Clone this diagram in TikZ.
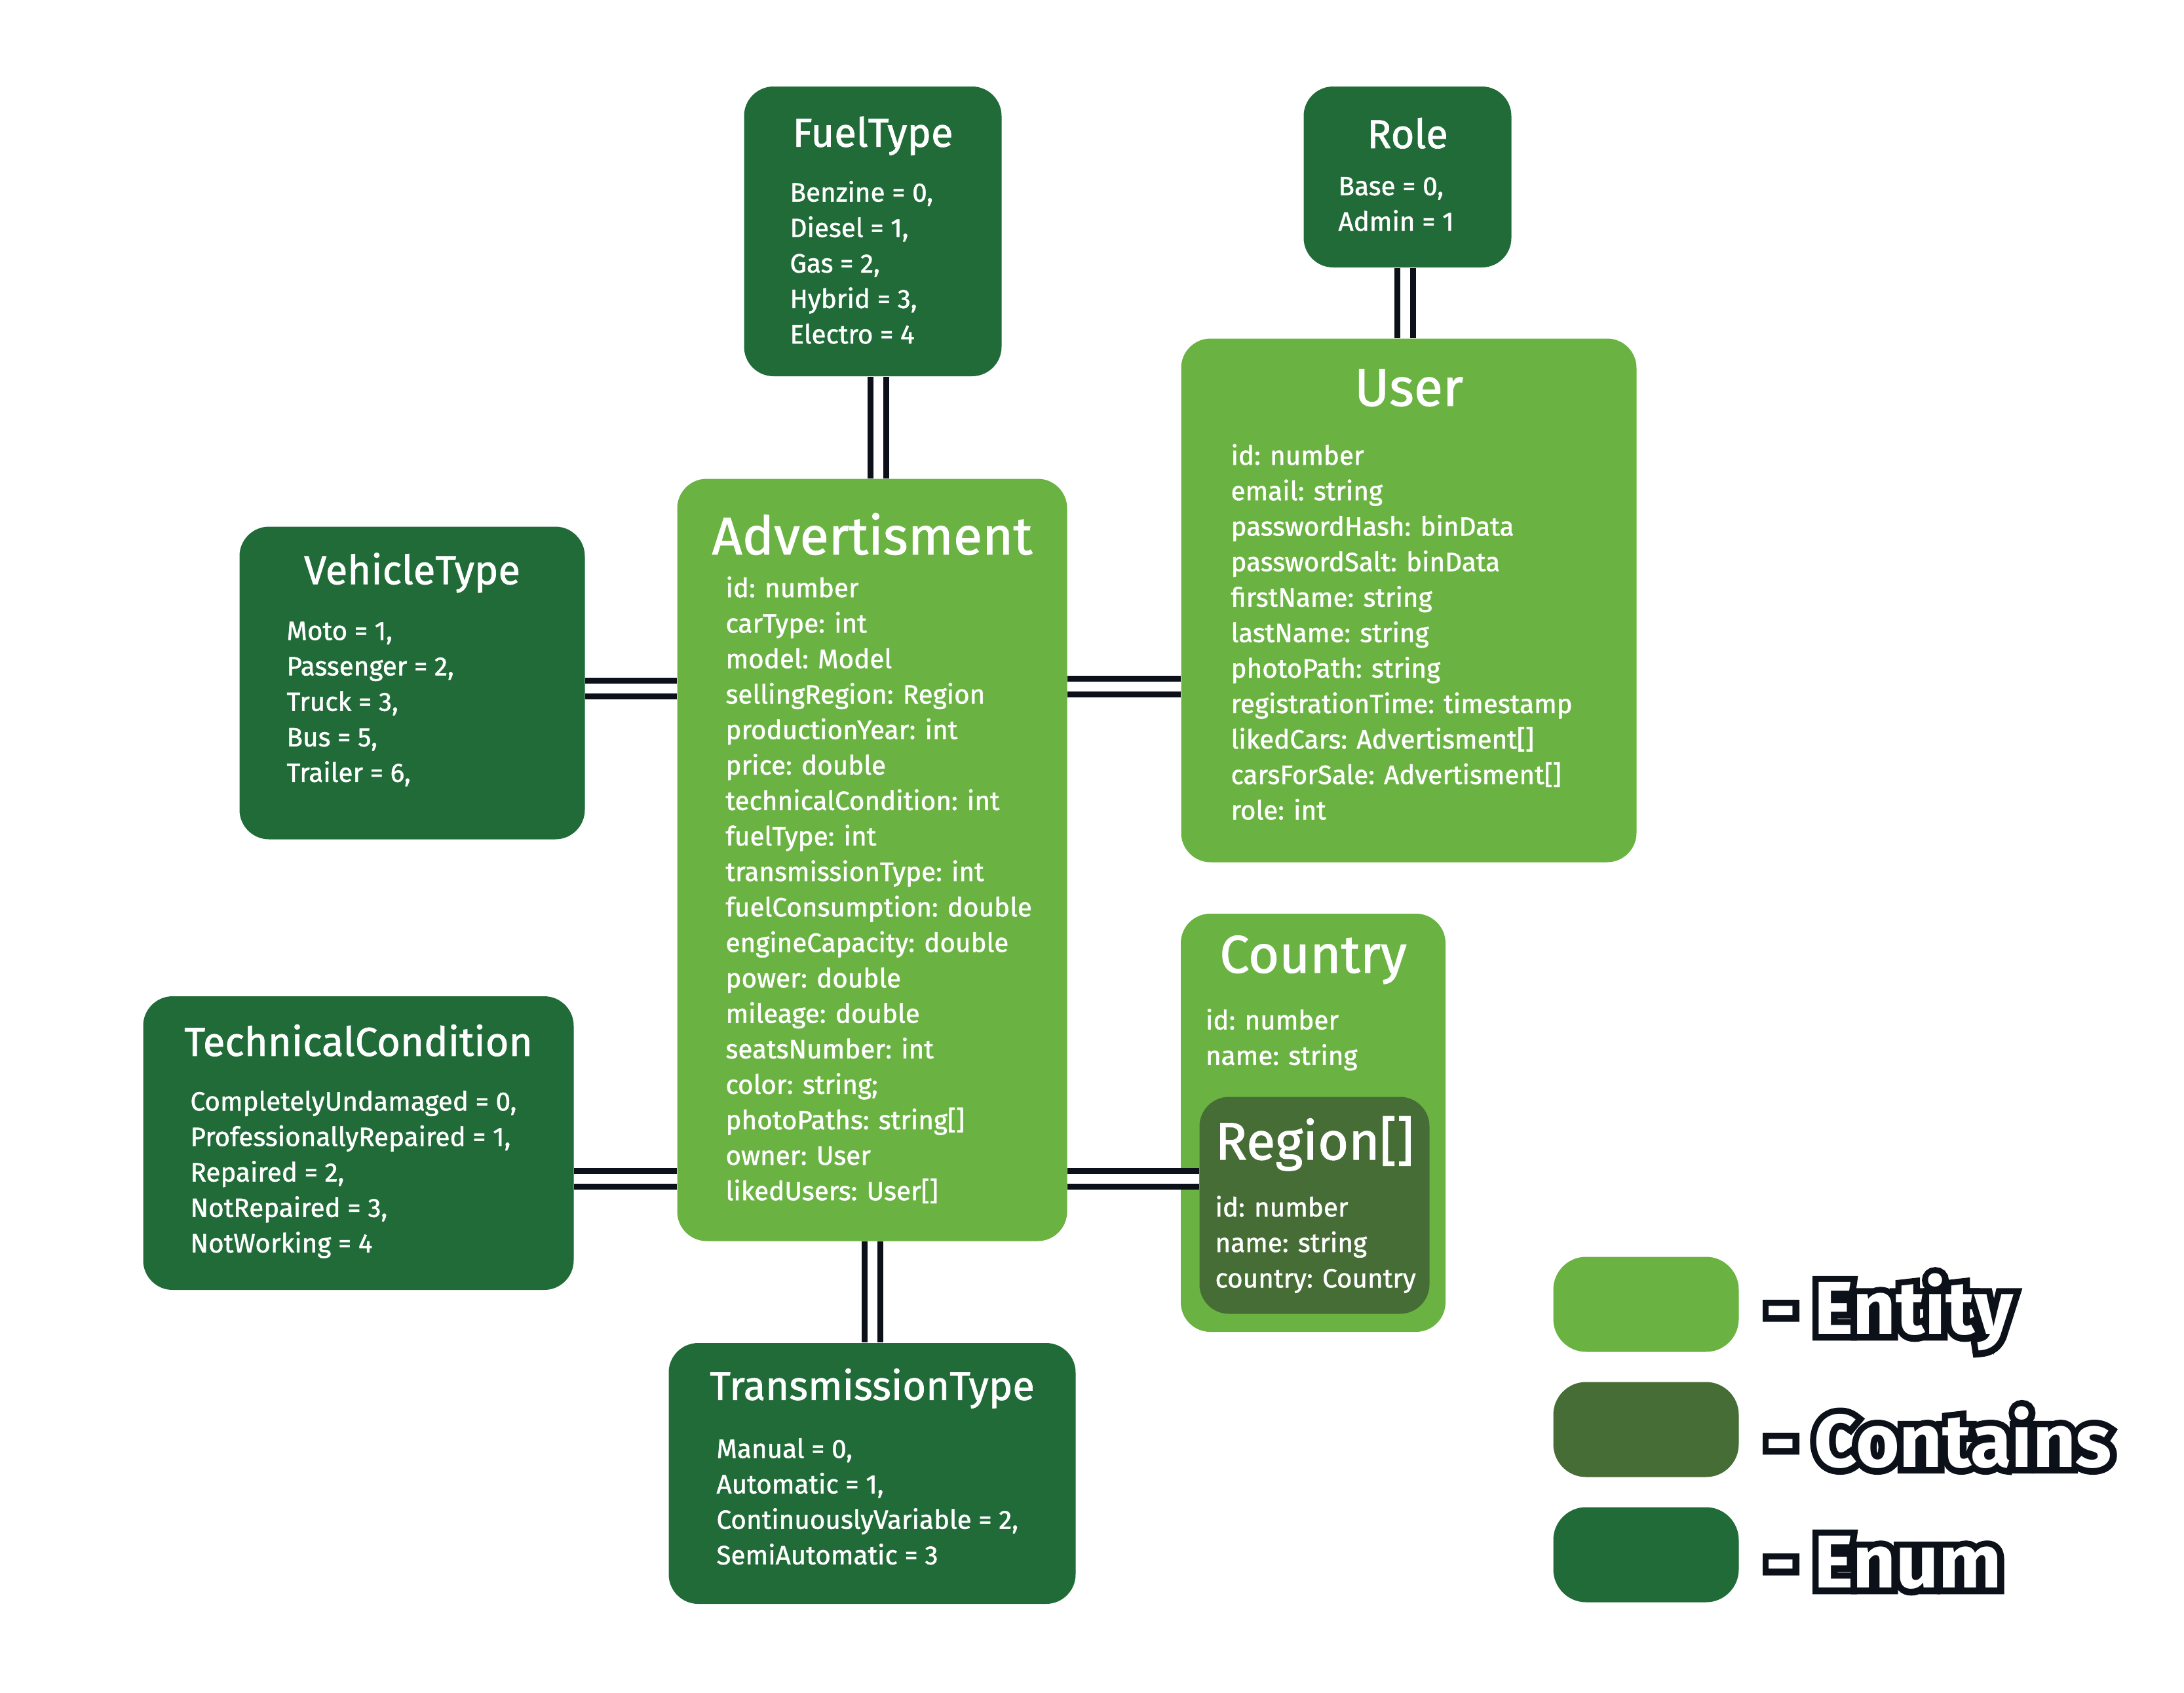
\documentclass[tikz,border=0pt]{standalone}
\usepackage{fontspec}
\setmainfont{Fira Sans}[UprightFeatures={FakeBold=1.2}]
\newfontfamily\legendfont{Fira Sans}
\newfontfamily\legendback{Fira Sans}[BoldFeatures={FakeBold=17}]
\usetikzlibrary{positioning}

\definecolor{entitygreen}{HTML}{6AB343}
\definecolor{containsgreen}{HTML}{466D35}
\definecolor{enumgreen}{HTML}{206B38}
\definecolor{linkblack}{HTML}{0C1018}

\begin{document}
\begin{tikzpicture}[
    box/.style={rounded corners=0.45cm, inner sep=0, draw=none},
    entity/.style={box, fill=entitygreen},
    contains/.style={box, fill=containsgreen},
    enum/.style={box, fill=enumgreen},
    bigtitle/.style={text=white, inner sep=0, font=\fontsize{23}{26}\selectfont},
    smalltitle/.style={text=white, inner sep=0, font=\fontsize{17.5}{20}\selectfont},
    fields/.style={text=white, inner sep=0, anchor=north west, align=left, font=\fontsize{11.5}{15.4}\selectfont},
    link/.style={draw=linkblack, line width=0.09cm, double=white, double distance=0.15cm},
    legendbox/.style={rounded corners=0.5cm, inner sep=0, minimum width=2.83cm, minimum height=1.45cm},
    legendtext/.style={anchor=west, inner sep=0, text=white, font=\fontsize{32.5}{36}\selectfont\legendfont\bfseries},
    legendline/.style={anchor=west, inner sep=0, text=linkblack, font=\fontsize{32.5}{36}\selectfont\legendback\bfseries}
  ]
  \useasboundingbox (0,0) rectangle (33.33,-25.83);

  % enums
  \node[enum, minimum width=3.93cm, minimum height=4.42cm] (fuel) at (13.32,-3.53) {};
  \node[smalltitle] (fuel-t) at ([yshift=-0.76cm]fuel.north) {FuelType};
  \node[fields] (fuel-f) at ([xshift=0.70cm, yshift=-1.44cm]fuel.north west)
    {Benzine = 0,\\Diesel = 1,\\Gas = 2,\\Hybrid = 3,\\Electro = 4};

  \node[enum, minimum width=3.17cm, minimum height=2.76cm] (role) at (21.48,-2.70) {};
  \node[smalltitle] (role-t) at ([yshift=-0.72cm]role.north) {Role};
  \node[fields] (role-f) at ([xshift=0.53cm, yshift=-1.38cm]role.north west)
    {Base = 0,\\Admin = 1};

  \node[enum, minimum width=5.27cm, minimum height=4.77cm] (vehicle) at (6.29,-10.42) {};
  \node[smalltitle] (vehicle-t) at ([yshift=-0.71cm]vehicle.north) {VehicleType};
  \node[fields] (vehicle-f) at ([xshift=0.72cm, yshift=-1.45cm]vehicle.north west)
    {Moto = 1,\\Passenger = 2,\\Truck = 3,\\Bus = 5,\\Trailer = 6,};

  \node[enum, minimum width=6.57cm, minimum height=4.48cm] (tech) at (5.47,-17.44) {};
  \node[smalltitle] (tech-t) at ([yshift=-0.68cm]tech.north) {TechnicalCondition};
  \node[fields] (tech-f) at ([xshift=0.72cm, yshift=-1.44cm]tech.north west)
    {CompletelyUndamaged = 0,\\ProfessionallyRepaired = 1,\\Repaired = 2,\\NotRepaired = 3,\\NotWorking = 4};

  \node[enum, minimum width=6.21cm, minimum height=3.98cm] (trans) at (13.31,-22.48) {};
  \node[smalltitle] (trans-t) at ([yshift=-0.70cm]trans.north) {TransmissionType};
  \node[fields] (trans-f) at ([xshift=0.73cm, yshift=-1.45cm]trans.north west)
    {Manual = 0,\\Automatic = 1,\\ContinuouslyVariable = 2,\\SemiAutomatic = 3};

  % entities
  \node[entity, minimum width=5.95cm, minimum height=11.63cm] (adv) at (13.31,-13.12) {};
  \node[bigtitle] (adv-t) at ([yshift=-0.85cm]adv.north) {Advertisment};
  \node[fields] (adv-f) at ([xshift=0.74cm, yshift=-1.49cm]adv.north west)
    {id: number\\carType: int\\model: Model\\sellingRegion: Region\\productionYear: int\\price: double\\
     technicalCondition: int\\fuelType: int\\transmissionType: int\\fuelConsumption: double\\
     engineCapacity: double\\power: double\\mileage: double\\seatsNumber: int\\color: string;\\
     photoPaths: string[]\\owner: User\\likedUsers: User[]};

  \node[entity, minimum width=6.95cm, minimum height=7.99cm] (user) at (21.50,-9.16) {};
  \node[bigtitle] (user-t) at ([yshift=-0.76cm]user.north) {User};
  \node[fields] (user-f) at ([xshift=0.76cm, yshift=-1.61cm]user.north west)
    {id: number\\email: string\\passwordHash: binData\\passwordSalt: binData\\firstName: string\\
     lastName: string\\photoPath: string\\registrationTime: timestamp\\likedCars: Advertisment[]\\
     carsForSale: Advertisment[]\\role: int};

  \node[entity, minimum width=4.04cm, minimum height=6.38cm] (country) at (20.04,-17.13) {};
  \node[bigtitle] (country-t) at ([yshift=-0.71cm]country.north) {Country};
  \node[fields] (country-f) at ([xshift=0.38cm, yshift=-1.45cm]country.north west)
    {id: number\\name: string};

  \node[contains, minimum width=3.51cm, minimum height=3.31cm] (region) at (20.06,-18.39) {};
  \node[bigtitle] (region-t) at ([yshift=-0.72cm]region.north) {Region[]};
  \node[fields] (region-f) at ([xshift=0.24cm, yshift=-1.51cm]region.north west)
    {id: number\\name: string\\country: Country};

  % links
  \draw[link] ([xshift=0.08cm]fuel.south) -- ([xshift=0.08cm]fuel.south |- adv.north);
  \draw[link] ([xshift=-0.04cm]role.south) -- ([xshift=-0.04cm]role.south |- user.north);
  \draw[link] ([yshift=-0.08cm]vehicle.east) -- ([yshift=-0.08cm]vehicle.east -| adv.west);
  \draw[link] ([yshift=-1.31cm]user.west) -- ([yshift=-1.31cm]user.west -| adv.east);
  \draw[link] ([yshift=-0.54cm]tech.east) -- ([yshift=-0.54cm]tech.east -| adv.west);
  \draw[link] ([yshift=0.41cm]region.west) -- ([yshift=0.41cm]region.west -| adv.east);
  \draw[link] (adv) -- (trans);

  % legend
  \node[legendbox, fill=entitygreen] (lg-entity) at (25.12,-19.90) {};
  \node[legendbox, fill=containsgreen] (lg-contains) at (25.12,-21.81) {};
  \node[legendbox, fill=enumgreen] (lg-enum) at (25.12,-23.72) {};
  \node[legendline] (lg-entity-o) at ([xshift=0.40cm, yshift=-0.12cm]lg-entity.east) {- Entity};
  \node[legendtext] (lg-entity-t) at (lg-entity-o.west) {- Entity};
  \node[legendline] (lg-contains-o) at ([xshift=0.40cm, yshift=-0.12cm]lg-contains.east) {- Contains};
  \node[legendtext] (lg-contains-t) at (lg-contains-o.west) {- Contains};
  \node[legendline] (lg-enum-o) at ([xshift=0.40cm, yshift=-0.12cm]lg-enum.east) {- Enum};
  \node[legendtext] (lg-enum-t) at (lg-enum-o.west) {- Enum};
\end{tikzpicture}
\end{document}
